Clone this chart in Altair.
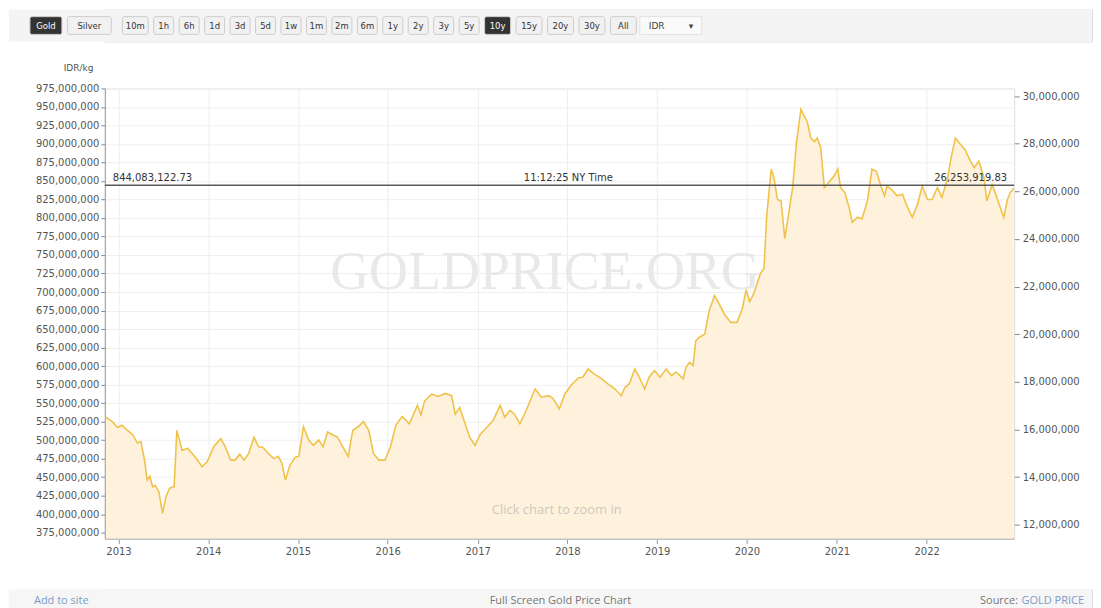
import altair as alt
import pandas as pd

# ---------------- data ----------------
# time as decimal years, price in millions of IDR per kg
t_2013_2016 = [2012.86, 2012.93, 2012.99, 2013.04, 2013.10, 2013.16, 2013.21, 2013.25, 2013.29, 2013.32,
               2013.35, 2013.38, 2013.41, 2013.45, 2013.49, 2013.53, 2013.57, 2013.62, 2013.65, 2013.67,
               2013.71, 2013.77, 2013.82, 2013.88, 2013.93, 2013.99, 2014.06, 2014.14, 2014.19, 2014.25,
               2014.30, 2014.35, 2014.40, 2014.45, 2014.51, 2014.56, 2014.61, 2014.67, 2014.73, 2014.78,
               2014.82, 2014.86, 2014.91, 2014.97, 2015.01, 2015.06, 2015.12, 2015.17, 2015.23, 2015.28,
               2015.33, 2015.39, 2015.44, 2015.50, 2015.56, 2015.61, 2015.67, 2015.73, 2015.79, 2015.84,
               2015.90, 2015.97, 2016.03, 2016.09, 2016.16, 2016.24, 2016.33]
p_2013_2016 = [531, 525, 517, 520, 513, 507, 496, 498, 473, 446,
               451, 437, 439, 430, 401, 424, 435, 437, 513, 504,
               486, 489, 482, 473, 464, 471, 491, 502, 491, 473,
               473, 481, 473, 482, 504, 491, 490, 482, 475, 478,
               469, 446, 466, 477, 478, 518, 500, 493, 500, 491,
               511, 507, 504, 491, 478, 513, 518, 525, 513, 482,
               473, 473, 491, 520, 532, 522, 547]

t_2016_2019 = [2016.37, 2016.41, 2016.49, 2016.56, 2016.64, 2016.71, 2016.75, 2016.80, 2016.86, 2016.91,
               2016.97, 2017.03, 2017.10, 2017.17, 2017.25, 2017.30, 2017.36, 2017.41, 2017.47, 2017.54,
               2017.64, 2017.71, 2017.79, 2017.84, 2017.91, 2017.97, 2018.04, 2018.12, 2018.17, 2018.23,
               2018.30, 2018.38, 2018.45, 2018.53, 2018.60, 2018.64, 2018.69, 2018.75, 2018.80, 2018.86,
               2018.91, 2018.97, 2019.03, 2019.10, 2019.16, 2019.21, 2019.29, 2019.32, 2019.36, 2019.40,
               2019.43, 2019.47, 2019.53, 2019.58, 2019.64, 2019.69, 2019.75, 2019.82, 2019.89]
p_2016_2019 = [534, 553, 562, 559, 563, 560, 535, 544, 522, 504,
               493, 508, 517, 526, 547, 531, 540, 535, 522, 540,
               569, 558, 560, 556, 542, 562, 574, 584, 585, 596,
               589, 583, 576, 569, 560, 571, 576, 596, 585, 569,
               585, 594, 585, 596, 587, 592, 583, 598, 605, 601,
               634, 639, 643, 675, 695, 684, 670, 659, 659]

t_2020_2022 = [2019.95, 2019.99, 2020.03, 2020.07, 2020.12, 2020.15, 2020.19, 2020.22, 2020.27, 2020.30,
               2020.34, 2020.38, 2020.42, 2020.46, 2020.51, 2020.55, 2020.60, 2020.64, 2020.67, 2020.71,
               2020.75, 2020.78, 2020.82, 2020.86, 2020.91, 2020.97, 2021.01, 2021.04, 2021.09, 2021.14,
               2021.17, 2021.23, 2021.28, 2021.34, 2021.39, 2021.44, 2021.49, 2021.53, 2021.56, 2021.62,
               2021.67, 2021.73, 2021.78, 2021.84, 2021.90, 2021.95, 2022.01, 2022.06, 2022.12, 2022.17,
               2022.23, 2022.28, 2022.32, 2022.38, 2022.43, 2022.47, 2022.53, 2022.58, 2022.64, 2022.67,
               2022.73, 2022.77, 2022.82, 2022.86, 2022.90, 2022.93, 2022.97]
p_2020_2022 = [678, 703, 687, 696, 714, 725, 732, 803, 866, 854,
               825, 823, 772, 803, 843, 901, 947, 937, 930, 908,
               903, 908, 895, 841, 848, 857, 866, 841, 834, 812,
               794, 801, 799, 823, 866, 863, 843, 830, 843, 837,
               830, 832, 816, 801, 819, 843, 825, 825, 841, 828,
               852, 886, 908, 899, 892, 881, 868, 877, 854, 823,
               845, 832, 814, 801, 825, 834, 840]

current_kg = 844083122.73
current_oz = 26253919.83
update_time = "11:12:25 NY Time"

left_ticks_m = list(range(375, 976, 25))      # millions IDR / kg
right_ticks_m = list(range(12, 31, 2))        # millions IDR / oz
year_ticks = list(range(2013, 2023))

buttons = ["Gold", "Silver", "10m", "1h", "6h", "1d", "3d", "5d", "1w", "1m", "2m", "6m",
           "1y", "2y", "3y", "5y", "10y", "15y", "20y", "30y", "All"]
selected_buttons = ["Gold", "10y"]
currency = "IDR"
watermark = "GOLDPRICE.ORG"
hint = "Click chart to zoom in"
footer_left = "Add to site"
footer_center = "Full Screen Gold Price Chart"
footer_source = "Source:"
footer_source_link = "GOLD PRICE"

# ---------------- helpers ----------------
OZ_PER_KG = current_kg / current_oz


def frac_ts(f):
    y = int(f)
    a = pd.Timestamp(year=y, month=1, day=1)
    b = pd.Timestamp(year=y + 1, month=1, day=1)
    return a + (b - a) * (f - y)


def frac_str(f):
    return frac_ts(f).strftime("%Y-%m-%dT%H:%M:%S")


def frac_dt(f):
    ts = frac_ts(f)
    return alt.DateTime(year=ts.year, month=ts.month, date=ts.day, hours=ts.hour)


years = t_2013_2016 + t_2016_2019 + t_2020_2022
prices = p_2013_2016 + p_2016_2019 + p_2020_2022
df = pd.DataFrame({
    "date": [frac_str(t) for t in years],
    "kg": [p * 1e6 for p in prices],
})
df["oz"] = df["kg"] / OZ_PER_KG

X_START, X_END = 2012.848, 2022.975
KG_MIN, KG_MAX = 367e6, 975e6
W, H = 911, 451
FULL_W = 1085
LEFT_EXT = 96
TOP_H = 32
FOOT_H = 23
SPACING = 20

FONT = "DejaVu Sans"
UI_FONT = "Open Sans"
LINE = "#f0c24c"
FILL = "#fef2dc"
LABEL = "#555555"

x_enc = alt.X(
    "date:T",
    scale=alt.Scale(domain=[frac_dt(X_START), frac_dt(X_END)]),
    axis=alt.Axis(values=[alt.DateTime(year=y, month=1, date=1) for y in year_ticks],
                  format="%Y", title=None, grid=True, gridColor="#ededed",
                  domainColor="#c4c4c4", domainWidth=2, tickColor="#999999", tickSize=5,
                  labelColor=LABEL, labelFont=FONT, labelFontSize=10, labelPadding=3,
                  labelFlush=False, minExtent=29),
)
y_left = alt.Y(
    "kg:Q",
    scale=alt.Scale(domain=[KG_MIN, KG_MAX], nice=False, zero=False),
    axis=alt.Axis(values=[v * 1e6 for v in left_ticks_m], format=",.0f",
                  title="IDR/kg", titleAngle=0, titleAlign="right", titleBaseline="bottom",
                  titleX=-12, titleY=-16, titleFont=FONT, titleFontSize=9,
                  titleFontWeight="normal", titleColor=LABEL,
                  grid=True, gridColor="#efefef", domainColor="#9a9a9a", tickColor="#888888",
                  tickSize=4, labelColor=LABEL, labelFont=FONT, labelFontSize=10,
                  labelPadding=2, minExtent=LEFT_EXT),
)
y_right = alt.Y(
    "oz:Q",
    scale=alt.Scale(domain=[KG_MIN / OZ_PER_KG, KG_MAX / OZ_PER_KG], nice=False, zero=False),
    axis=alt.Axis(orient="right", values=[v * 1e6 for v in right_ticks_m], format=",.0f",
                  title=None, grid=False, domain=False, tickColor="#888888", tickSize=5,
                  labelColor=LABEL, labelFont=FONT, labelFontSize=10, labelPadding=3),
)

area = alt.Chart(df).mark_area(color=FILL, clip=True).encode(x=x_enc, y=y_left)
line = alt.Chart(df).mark_line(color=LINE, strokeWidth=1.6, clip=True).encode(x=x_enc, y=y_left)

wm_df = pd.DataFrame({"date": [frac_str(2017.75)], "kg": [726e6], "text": [watermark]})
wm = alt.Chart(wm_df).mark_text(font="Liberation Serif", fontSize=54, color="#e6e6e6",
                                opacity=0.85, baseline="middle").encode(x=x_enc, y=y_left, text="text:N")

hint_df = pd.DataFrame({"date": [frac_str(2017.88)], "kg": [405e6], "text": [hint]})
hint_t = alt.Chart(hint_df).mark_text(font=UI_FONT, fontSize=13, color="#cfc8bd",
                                      baseline="middle").encode(x=x_enc, y=y_left, text="text:N")

cur_df = pd.DataFrame({"kg": [current_kg]})
rule = alt.Chart(cur_df).mark_rule(color="#5a5a5a", strokeWidth=1.5).encode(y=y_left)

lbl_l = pd.DataFrame({"date": [frac_str(X_START)], "kg": [current_kg], "text": [f"{current_kg:,.2f}"]})
lbl_c = pd.DataFrame({"date": [frac_str(2018.01)], "kg": [current_kg], "text": [update_time]})
lbl_r = pd.DataFrame({"date": [frac_str(X_END)], "kg": [current_kg], "text": [f"{current_oz:,.2f}"]})
txt_kw = dict(font=FONT, fontSize=10, color="#333333", baseline="bottom", dy=-2)
t_l = alt.Chart(lbl_l).mark_text(align="left", dx=8, **txt_kw).encode(x=x_enc, y=y_left, text="text:N")
t_c = alt.Chart(lbl_c).mark_text(align="center", **txt_kw).encode(x=x_enc, y=y_left, text="text:N")
t_r = alt.Chart(lbl_r).mark_text(align="right", dx=-7, **txt_kw).encode(x=x_enc, y=y_left, text="text:N")

inner = alt.layer(area, wm, line, hint_t, rule, t_l, t_c, t_r)
right_axis_layer = alt.Chart(df).mark_line(opacity=0).encode(x=x_enc, y=y_right)
main = alt.layer(inner, right_axis_layer).resolve_scale(y="independent").properties(width=W, height=H)

# ---------------- shared scale for the widget chrome (full widget width) ----------------
chrome_x = alt.Scale(domain=[0, FULL_W], range=[-LEFT_EXT, FULL_W - LEFT_EXT])
band_df = pd.DataFrame({"x0": [0], "x1": [FULL_W]})

# ---------------- top button bar ----------------
rows = []
pos = 21.0
for lab in buttons:
    w = 8 + 6 * len(lab)
    rows.append({"label": lab, "x0": pos, "x1": pos + w, "xc": pos + w / 2,
                 "sel": lab in selected_buttons, "row": "r"})
    pos += w + (11 if lab == "Silver" else 5.5)
btn_df = pd.DataFrame(rows)
sel_df = pd.DataFrame([{"x0": pos - 2, "x1": pos + 60, "row": "r"}])
sel_txt = pd.DataFrame([{"x": pos + 7, "text": currency, "row": "r"},
                        {"x": pos + 47, "text": "\u25be", "row": "r"}])

ty = alt.Y("row:N", axis=None, scale=alt.Scale(paddingInner=0, paddingOuter=0.4))
top_band = alt.Chart(band_df).mark_rect(fill="#f4f4f4").encode(
    x=alt.X("x0:Q", scale=chrome_x, axis=None), x2="x1:Q")
btn_rect = alt.Chart(btn_df).mark_rect(stroke="#cccccc", strokeWidth=1, cornerRadius=2).encode(
    x=alt.X("x0:Q", scale=chrome_x, axis=None), x2="x1:Q", y=ty,
    fill=alt.condition(alt.datum.sel, alt.value("#333333"), alt.value("#f1f1f1")))
btn_text = alt.Chart(btn_df).mark_text(font=FONT, fontSize=8.5).encode(
    x=alt.X("xc:Q", scale=chrome_x, axis=None), y=ty, text="label:N",
    color=alt.condition(alt.datum.sel, alt.value("#ffffff"), alt.value("#333333")))
sel_rect = alt.Chart(sel_df).mark_rect(fill="#fafafa", stroke="#e2e2e2", strokeWidth=1).encode(
    x=alt.X("x0:Q", scale=chrome_x, axis=None), x2="x1:Q", y=ty)
sel_t = alt.Chart(sel_txt).mark_text(font=FONT, fontSize=9, align="left", color="#444444").encode(
    x=alt.X("x:Q", scale=chrome_x, axis=None), y=ty, text="text:N")
top = alt.layer(top_band, btn_rect, btn_text, sel_rect, sel_t).properties(
    width=FULL_W - LEFT_EXT, height=TOP_H)

# ---------------- footer ----------------
foot_l = pd.DataFrame({"x": [25], "text": [footer_left]})
foot_c = pd.DataFrame({"x": [FULL_W / 2 + 10], "text": [footer_center]})
foot_s = pd.DataFrame({"x": [FULL_W - 74], "text": [footer_source]})
foot_g = pd.DataFrame({"x": [FULL_W - 8], "text": [footer_source_link]})
fk = dict(font=UI_FONT, fontSize=11, baseline="middle")
foot_band = alt.Chart(band_df).mark_rect(fill="#f6f6f6").encode(
    x=alt.X("x0:Q", scale=chrome_x, axis=None), x2="x1:Q")
f1 = alt.Chart(foot_l).mark_text(align="left", color="#7b9cc8", **fk).encode(
    x=alt.X("x:Q", scale=chrome_x, axis=None), text="text:N")
f2 = alt.Chart(foot_c).mark_text(align="center", color="#777777", **fk).encode(
    x=alt.X("x:Q", scale=chrome_x, axis=None), text="text:N")
f3 = alt.Chart(foot_s).mark_text(align="right", color="#777777", **fk).encode(
    x=alt.X("x:Q", scale=chrome_x, axis=None), text="text:N")
f4 = alt.Chart(foot_g).mark_text(align="right", color="#7b9cc8", **fk).encode(
    x=alt.X("x:Q", scale=chrome_x, axis=None), text="text:N")
footer = alt.layer(foot_band, f1, f2, f3, f4).properties(width=FULL_W - LEFT_EXT, height=FOOT_H)

chart = alt.vconcat(top, main, footer, spacing=SPACING).properties(
    padding={"left": 0, "top": 0, "right": 0, "bottom": 0}
).configure_view(stroke=None).configure(background="white")

chart.save("out.html", embed_options={"renderer": "svg", "actions": False})
